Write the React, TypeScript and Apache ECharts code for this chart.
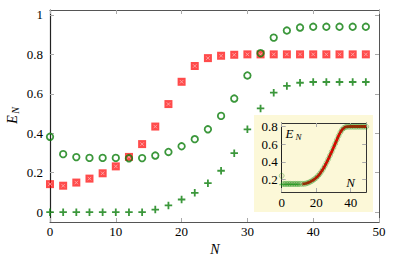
import React, { useEffect, useRef } from "react";
import * as echarts from "echarts";

// ---------- data ----------
const mainN = [0, 2, 4, 6, 8, 10, 12, 14, 16, 18, 20, 22, 24, 26, 28, 30, 32, 34, 36, 38, 40, 42, 44, 46, 48];
const redSquareVals = [0.142, 0.134, 0.15, 0.17, 0.197, 0.232, 0.28, 0.345, 0.434, 0.548, 0.661, 0.741, 0.781, 0.793, 0.798, 0.8, 0.8, 0.8, 0.8, 0.8, 0.8, 0.8, 0.8, 0.8, 0.8];
const greenCircleVals = [0.382, 0.294, 0.279, 0.275, 0.275, 0.275, 0.273, 0.274, 0.287, 0.305, 0.334, 0.37, 0.42, 0.488, 0.576, 0.693, 0.806, 0.885, 0.921, 0.936, 0.94, 0.94, 0.94, 0.94, 0.94];
const greenPlusVals = [0, 0, 0, 0, 0, 0, 0, 0, 0.013, 0.034, 0.064, 0.098, 0.147, 0.21, 0.299, 0.42, 0.526, 0.606, 0.64, 0.656, 0.66, 0.66, 0.66, 0.66, 0.66];

const mainXTicks = [0, 10, 20, 30, 40, 50];
const mainYTicks = [0, 0.2, 0.4, 0.6, 0.8, 1];

const insetN = [0, 1, 2, 3, 4, 5, 6, 7, 8, 9, 10, 11, 12, 13, 14, 15, 16, 17, 18, 19, 20, 21, 22, 23, 24, 25, 26, 27, 28, 29, 30, 31, 32, 33, 34, 35, 36, 37, 38, 39, 40, 41, 42, 43, 44, 45, 46, 47, 48, 49];
const insetCircleVals = [0.24, 0.148, 0.148, 0.148, 0.148, 0.148, 0.148, 0.148, 0.148, 0.148, 0.148, 0.148, 0.148, 0.148, 0.152, 0.158, 0.166, 0.176, 0.188, 0.202, 0.218, 0.238, 0.26, 0.287, 0.318, 0.352, 0.39, 0.43, 0.472, 0.515, 0.56, 0.605, 0.65, 0.695, 0.735, 0.765, 0.785, 0.796, 0.8, 0.8, 0.8, 0.8, 0.8, 0.8, 0.8, 0.8, 0.8, 0.8, 0.8, 0.8];
const insetLineN = [12, 14, 16, 18, 20, 22, 24, 26, 28, 30, 32, 34, 36, 38, 40, 42, 44, 46, 49];
const insetLineVals = [0.146, 0.152, 0.166, 0.188, 0.218, 0.26, 0.318, 0.39, 0.472, 0.56, 0.65, 0.735, 0.785, 0.8, 0.802, 0.802, 0.802, 0.802, 0.802];
const insetPlusN = [0, 1, 2, 3, 4, 5, 6, 7, 8, 9, 10];
const insetPlusVals = [0.14, 0.142, 0.142, 0.142, 0.142, 0.142, 0.142, 0.142, 0.142, 0.142, 0.142];
const insetXTicks = [0, 20, 40];
const insetYTicks = [0.2, 0.4, 0.6, 0.8];

const zip = (xs: number[], ys: number[]) => xs.map((x, i) => [x, ys[i]]);

const FONT = "Liberation Serif";
const GREEN = "#0a7d0a";
const FRAME = "#555";
const TICK = "#aaa";
const PLUS = "path://M3.8,0h2.4v3.8h3.8v2.4h-3.8v3.8h-2.4v-3.8h-3.8v-2.4h3.8z";

function frameAxis(extra: any) {
  return {
    axisLine: { show: true, onZero: false, lineStyle: { color: FRAME, width: 1 } },
    axisTick: { show: true, inside: true, length: 4, lineStyle: { color: TICK } },
    splitLine: { show: false },
    ...extra,
  };
}

export default function App() {
  const ref = useRef<HTMLDivElement>(null);
  useEffect(() => {
    if (!ref.current) return;
    const chart = echarts.init(ref.current, undefined, { renderer: "svg" });
    const labelStyle = { color: "#000", fontFamily: FONT, fontSize: 13 };
    chart.setOption({
      animation: false,
      backgroundColor: "#fff",
      grid: [
        { left: 50, top: 10, width: 329, height: 212, show: false },
        { left: 281.7, top: 123, width: 84.5, height: 69, show: false },
      ],
      xAxis: [
        frameAxis({
          type: "value", gridIndex: 0, position: "bottom", min: 0, max: 50, interval: 10,
          axisLabel: { ...labelStyle, margin: 3, customValues: mainXTicks },
          axisTick: { show: true, inside: true, length: 4, lineStyle: { color: TICK }, customValues: mainXTicks },
        }),
        frameAxis({
          type: "value", gridIndex: 0, position: "top", min: 0, max: 50, interval: 10,
          axisLabel: { show: false },
        }),
        frameAxis({
          type: "value", gridIndex: 1, position: "bottom", min: 0, max: 49, interval: 20, z: 5,
          axisLine: { show: true, onZero: false, lineStyle: { color: "#333", width: 1 } },
          axisLabel: { ...labelStyle, margin: 4, customValues: insetXTicks },
          axisTick: { show: true, inside: true, length: 4, lineStyle: { color: TICK }, customValues: insetXTicks },
        }),
        frameAxis({
          type: "value", gridIndex: 1, position: "top", min: 0, max: 49, interval: 20, z: 5,
          axisLine: { show: true, onZero: false, lineStyle: { color: "#333", width: 1 } },
          axisLabel: { show: false },
        }),
      ],
      yAxis: [
        frameAxis({
          type: "value", gridIndex: 0, position: "left", min: -0.05, max: 1.025,
          axisLine: { show: true, onZero: false, lineStyle: { color: "#222", width: 1.2 } },
          axisLabel: { ...labelStyle, margin: 7, customValues: mainYTicks },
          axisTick: { show: true, inside: true, length: 4, lineStyle: { color: TICK }, customValues: mainYTicks },
        }),
        frameAxis({
          type: "value", gridIndex: 0, position: "right", min: -0.05, max: 1.025,
          axisLabel: { show: false },
          axisTick: { show: true, inside: true, length: 4, lineStyle: { color: TICK }, customValues: mainYTicks },
        }),
        frameAxis({
          type: "value", gridIndex: 1, position: "left", min: 0.055, max: 0.842, z: 5,
          axisLine: { show: true, onZero: false, lineStyle: { color: "#222", width: 1 } },
          axisLabel: { ...labelStyle, margin: 4, customValues: insetYTicks },
          axisTick: { show: true, inside: true, length: 4, lineStyle: { color: TICK }, customValues: insetYTicks },
        }),
        frameAxis({
          type: "value", gridIndex: 1, position: "right", min: 0.055, max: 0.842, z: 5,
          axisLine: { show: true, onZero: false, lineStyle: { color: "#333", width: 1 } },
          axisLabel: { show: false },
          axisTick: { show: true, inside: true, length: 4, lineStyle: { color: TICK }, customValues: insetYTicks },
        }),
      ],
      graphic: [
        { type: "rect", z: 0, shape: { x: 254, y: 115, width: 119, height: 97 }, style: { fill: "#fcf8d8" } },
        { type: "text", z: 10, x: 12, y: 119.5, rotation: Math.PI / 2,
          style: { text: "E", font: `italic 14px ${FONT}`, fill: "#000", textAlign: "center", textVerticalAlign: "middle" } },
        { type: "text", z: 10, x: 15.5, y: 110.5, rotation: Math.PI / 2,
          style: { text: "N", font: `italic 10px ${FONT}`, fill: "#000", textAlign: "center", textVerticalAlign: "middle" } },
        { type: "text", z: 10, x: 215, y: 249.5,
          style: { text: "N", font: `italic 14px ${FONT}`, fill: "#000", textAlign: "center", textVerticalAlign: "middle" } },
        { type: "text", z: 10, x: 289.5, y: 133,
          style: { text: "E", font: `italic 13px ${FONT}`, fill: "#000", textAlign: "center", textVerticalAlign: "middle" } },
        { type: "text", z: 10, x: 298.5, y: 136.5,
          style: { text: "N", font: `italic 9px ${FONT}`, fill: "#000", textAlign: "center", textVerticalAlign: "middle" } },
        { type: "text", z: 10, x: 350.5, y: 182,
          style: { text: "N", font: `italic 13px ${FONT}`, fill: "#000", textAlign: "center", textVerticalAlign: "middle" } },
      ],
      series: [
        {
          type: "scatter", xAxisIndex: 0, yAxisIndex: 0, data: zip(mainN, redSquareVals),
          symbol: "rect", symbolSize: 8, itemStyle: { color: "rgba(255,0,0,0.88)" }, z: 3,
        },
        {
          type: "scatter", xAxisIndex: 0, yAxisIndex: 0, data: zip(mainN, redSquareVals),
          symbol: "path://M0,0L10,10M10,0L0,10", symbolSize: 3.5,
          itemStyle: { color: "none", borderColor: "#ffb0b0", borderWidth: 1 }, z: 3,
        },
        {
          type: "scatter", xAxisIndex: 0, yAxisIndex: 0, data: zip(mainN, greenCircleVals),
          symbol: "circle", symbolSize: 6.5,
          itemStyle: { color: "rgba(0,0,0,0)", borderColor: GREEN, borderWidth: 1.8 }, z: 4,
        },
        {
          type: "scatter", xAxisIndex: 0, yAxisIndex: 0, data: zip(mainN, greenPlusVals),
          symbol: PLUS, symbolSize: 7.5, itemStyle: { color: GREEN }, z: 4,
        },
        {
          type: "line", xAxisIndex: 2, yAxisIndex: 2, data: zip(insetLineN, insetLineVals),
          smooth: true, showSymbol: false, lineStyle: { color: "#ee0000", width: 2.8 }, z: 6,
        },
        {
          type: "scatter", xAxisIndex: 2, yAxisIndex: 2, data: zip(insetN, insetCircleVals),
          symbol: "circle", symbolSize: 5,
          itemStyle: { color: "rgba(60,40,0,0.10)", borderColor: "rgba(20,150,20,0.38)", borderWidth: 1 }, z: 7,
        },
        {
          type: "scatter", xAxisIndex: 2, yAxisIndex: 2, data: zip(insetPlusN, insetPlusVals),
          symbol: PLUS, symbolSize: 5, itemStyle: { color: "rgba(20,150,20,0.5)" }, z: 7,
        },
      ],
    });
    return () => chart.dispose();
  }, []);
  return <div ref={ref} style={{ position: "fixed", left: 0, top: 0, width: 394, height: 262 }} />;
}
